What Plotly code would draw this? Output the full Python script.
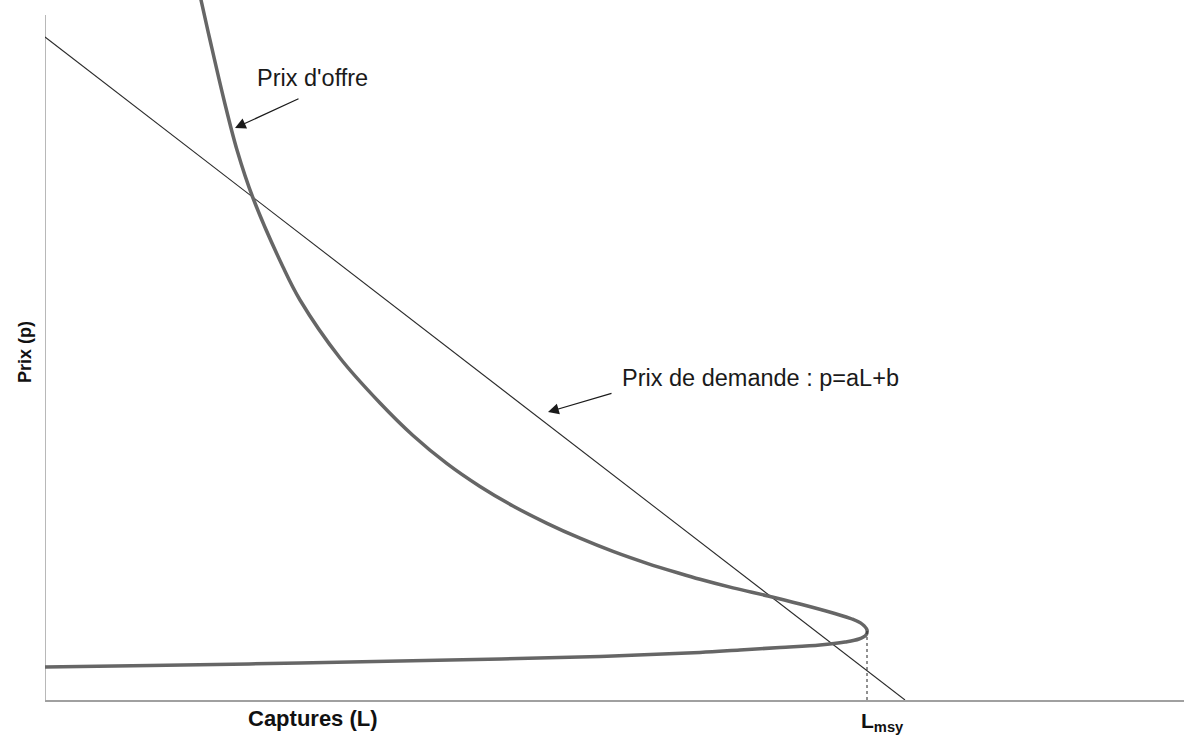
import plotly.graph_objects as go

# supply price curve (backward-bending)
SUPPLY_L = [15.4, 15.6, 16.5, 17.9, 19.2, 20.8, 23.8, 25.5, 29.5, 33.5, 36.8, 40.2,
            43.5, 46.8, 50.2, 53.5, 56.8, 60.2, 63.5, 65.5, 68.8, 72.3, 75.5, 78.8,
            80.7, 81.7, 82.2,
            82.1, 81.4, 80.0, 77.5, 73.5, 69.5, 65.5, 55.5, 40.5, 25.5, 10.5, 0.0]
SUPPLY_P = [71.0, 70.0, 66.0, 60.0, 55.0, 50.2, 43.3, 40.0, 34.2, 29.7, 26.45, 23.63,
            21.35, 19.4, 17.67, 16.18, 14.86, 13.67, 12.65, 12.07, 11.21, 10.4, 9.6, 8.7,
            8.1, 7.6, 7.0,
            6.5, 6.1, 5.8, 5.5, 5.25, 5.0, 4.75, 4.35, 4.0, 3.7, 3.45, 3.3]

# demand price line p = aL + b
DEMAND_L = [0.0, 86.0]
DEMAND_P = [66.3, 0.0]

L_MSY = 82.2
P_MSY = 7.0

X_MAX = 113.9
Y_MAX = 70.0
Y_AXIS_TOP = 68.5

FONT = "Liberation Sans, Arial, sans-serif"
AXIS_GREY = "#a0a0a0"

fig = go.Figure()

fig.add_trace(go.Scatter(
    x=DEMAND_L, y=DEMAND_P, mode="lines",
    line={"color": "#2b2b2b", "width": 1.1},
    hoverinfo="skip",
))
fig.add_trace(go.Scatter(
    x=SUPPLY_L, y=SUPPLY_P, mode="lines",
    line={"color": "#666666", "width": 3.5, "shape": "spline", "smoothing": 1.0},
    hoverinfo="skip",
))
fig.add_trace(go.Scatter(
    x=[L_MSY, L_MSY], y=[0, P_MSY], mode="lines",
    line={"color": "#222222", "width": 1, "dash": "dot"},
    hoverinfo="skip",
))

# y axis line (stops short of the top, unlike the curve)
fig.add_shape(type="line", xref="x", yref="y", x0=0, x1=0, y0=0, y1=Y_AXIS_TOP,
              line={"color": AXIS_GREY, "width": 1.5}, layer="below")

ann_font = {"family": FONT, "size": 23.5, "color": "#1a1a1a"}
arrow_style = {"showarrow": True, "arrowhead": 2, "arrowsize": 1.8, "arrowwidth": 1.2,
               "arrowcolor": "#1a1a1a", "standoff": 0, "axref": "x", "ayref": "y",
               "text": ""}

fig.add_annotation(x=26.7, y=62.2, text="Prix d'offre", showarrow=False, font=ann_font)
fig.add_annotation(x=19.0, y=57.2, ax=25.5, ay=60.2, **arrow_style)

fig.add_annotation(x=71.5, y=32.2, text="Prix de demande : p=aL+b", showarrow=False,
                   font=ann_font)
fig.add_annotation(x=50.3, y=28.8, ax=56.8, ay=30.7, **arrow_style)

title_font = {"family": FONT, "size": 22, "color": "#111111"}
fig.add_annotation(x=26.8, y=0, yref="paper", yanchor="top", yshift=-4,
                   text="<b>Captures (L)</b>", showarrow=False, font=title_font)
fig.add_annotation(x=81.4, y=0, yref="paper", xanchor="left", yanchor="top", yshift=-7,
                   text="<b>L<sub>msy</sub></b>", showarrow=False,
                   font={"family": FONT, "size": 21, "color": "#111111"})
fig.add_annotation(x=0, xref="paper", xanchor="center", xshift=-20, y=34.8,
                   textangle=-90, text="<b>Prix (p)</b>", showarrow=False,
                   font={"family": FONT, "size": 18, "color": "#111111"})

fig.update_xaxes(range=[0, X_MAX], showgrid=False, zeroline=False, showticklabels=False,
                 ticks="", showline=True, linecolor=AXIS_GREY, linewidth=1.5)
fig.update_yaxes(range=[0, Y_MAX], showgrid=False, zeroline=False, showticklabels=False,
                 ticks="", showline=False)
fig.update_layout(
    width=1184, height=740,
    margin={"l": 45, "r": 0, "t": 0, "b": 40},
    plot_bgcolor="white", paper_bgcolor="white",
    showlegend=False,
)

# drop the page's default body margin so the figure sits at the window's corner
fig.write_html("out.html", config={"displayModeBar": False},
               post_script="document.body.style.margin='0';")
